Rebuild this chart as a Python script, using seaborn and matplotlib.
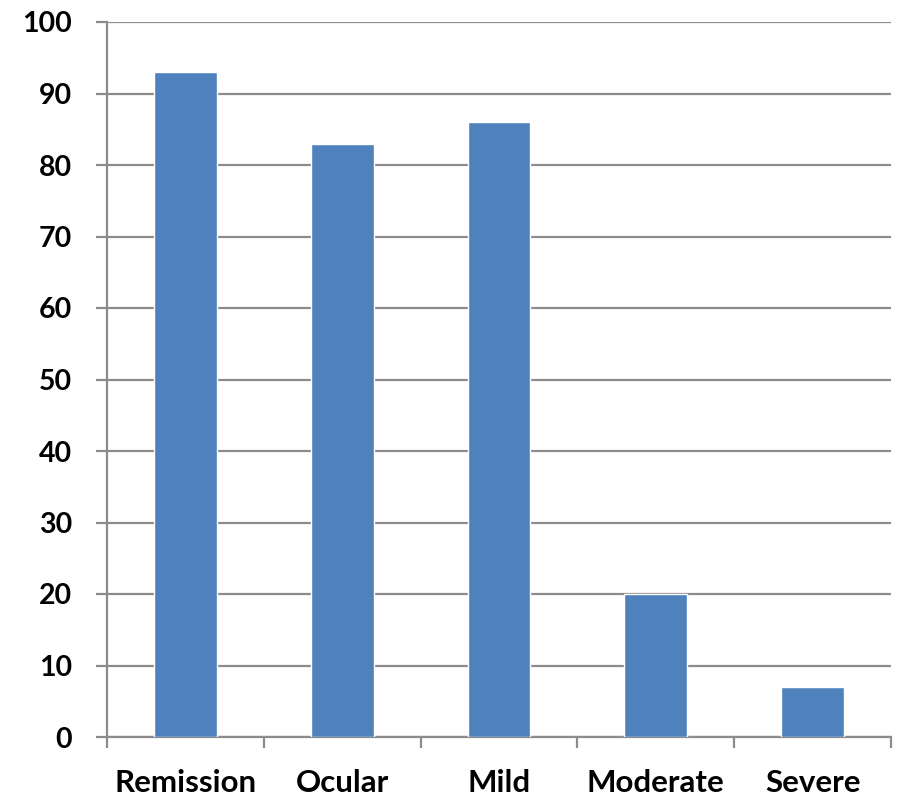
import matplotlib
matplotlib.use("Agg")
import matplotlib.pyplot as plt
import seaborn as sns
import pandas as pd
from matplotlib.ticker import FixedLocator

categories = ["Remission", "Ocular", "Mild", "Moderate", "Severe"]
values = [93, 83, 86, 20, 7]
y_ticks = [0, 10, 20, 30, 40, 50, 60, 70, 80, 90, 100]

df = pd.DataFrame({"category": categories, "value": values})

sns.set_theme(style="white")
plt.rcParams["font.family"] = ["Lato", "DejaVu Sans"]

W, H = 897, 799
fig = plt.figure(figsize=(W / 100, H / 100), dpi=100)
ax = fig.add_axes([107 / W, (H - 737) / H, (891 - 107) / W, (737 - 22) / H])

grid_color = "#8c8c8c"
sns.barplot(data=df, x="category", y="value", color="#4F81BD", width=0.4,
            saturation=1, ax=ax, zorder=3)

ax.set_ylim(0, 100)
ax.set_xlim(-0.5, len(categories) - 0.5)
ax.set_yticks(y_ticks)
ax.set_yticklabels([str(t) for t in y_ticks])
ax.yaxis.grid(True, color=grid_color, linewidth=1.6, zorder=0)
ax.set_axisbelow(True)

# category boundaries carry the x tick marks
ax.xaxis.set_minor_locator(FixedLocator([i - 0.5 for i in range(len(categories) + 1)]))
ax.tick_params(axis="x", which="major", length=0, pad=23)
ax.tick_params(axis="x", which="minor", length=8, width=1.6, color=grid_color,
               direction="out", bottom=True)
ax.tick_params(axis="y", which="major", length=8, width=1.6, color=grid_color,
               direction="out", left=True, pad=17)

for lbl in ax.get_xticklabels():
    lbl.set_fontweight("bold")
    lbl.set_fontsize(22.5)
    lbl.set_color("black")
for lbl in ax.get_yticklabels():
    lbl.set_fontweight("bold")
    lbl.set_fontsize(20.5)
    lbl.set_color("black")

for side in ["top", "right"]:
    ax.spines[side].set_visible(False)
for side in ["left", "bottom"]:
    ax.spines[side].set_color(grid_color)
    ax.spines[side].set_linewidth(1.6)

ax.set_xlabel("")
ax.set_ylabel("")

fig.savefig("out.png", dpi=100, facecolor="white")
